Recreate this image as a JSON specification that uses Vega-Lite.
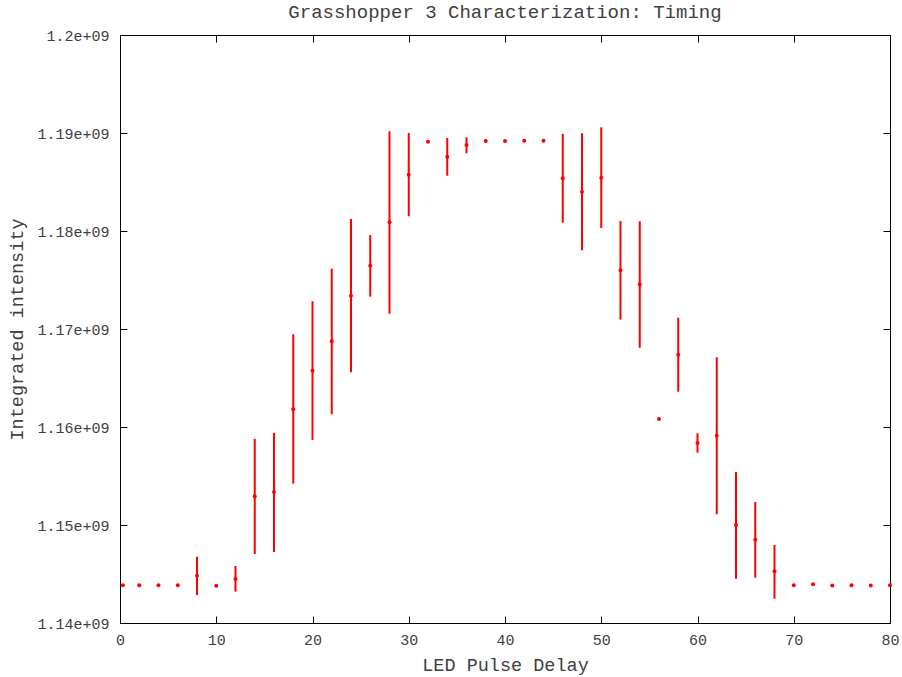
{
  "$schema": "https://vega.github.io/schema/vega-lite/v6.json",
  "width": 770,
  "height": 588,
  "autosize": {"type": "none"},
  "padding": {"left": 120, "top": 35, "right": 12, "bottom": 54},
  "background": "white",
  "title": {"text": "Grasshopper 3 Characterization: Timing", "font": "Liberation Mono", "fontSize": 19, "fontWeight": "normal", "color": "#404040", "offset": 6, "anchor": "middle"},
  "config": {
    "view": {"stroke": "#000000", "strokeWidth": 1},
    "axis": {"domain": false, "grid": false, "tickColor": "#000000", "tickSize": -7, "tickWidth": 1, "labelFlush": false,
             "labelFont": "Liberation Mono", "labelFontSize": 15, "labelColor": "#404040",
             "titleFont": "Liberation Mono", "titleFontSize": 18.5, "titleFontWeight": "normal", "titleColor": "#404040"}
  },
  "data": {"values": [
    {"x": 0.3, "y": 1143850000},
    {"x": 2, "y": 1143850000},
    {"x": 4, "y": 1143850000},
    {"x": 6, "y": 1143850000},
    {"x": 8, "y": 1144830000, "lo": 1142860000, "hi": 1146770000},
    {"x": 10, "y": 1143800000},
    {"x": 12, "y": 1144490000, "lo": 1143200000, "hi": 1145820000},
    {"x": 14, "y": 1152930000, "lo": 1147040000, "hi": 1158780000},
    {"x": 16, "y": 1153370000, "lo": 1147250000, "hi": 1159420000},
    {"x": 18, "y": 1161810000, "lo": 1154220000, "hi": 1169460000},
    {"x": 20, "y": 1165750000, "lo": 1158670000, "hi": 1172830000},
    {"x": 22, "y": 1168750000, "lo": 1161300000, "hi": 1176150000},
    {"x": 24, "y": 1173400000, "lo": 1165580000, "hi": 1181220000},
    {"x": 26, "y": 1176460000, "lo": 1173300000, "hi": 1179590000},
    {"x": 28, "y": 1180890000, "lo": 1171560000, "hi": 1190170000},
    {"x": 30, "y": 1185740000, "lo": 1181500000, "hi": 1190000000},
    {"x": 32, "y": 1189110000},
    {"x": 34, "y": 1187580000, "lo": 1185640000, "hi": 1189490000},
    {"x": 36, "y": 1188780000, "lo": 1187930000, "hi": 1189560000},
    {"x": 38, "y": 1189180000},
    {"x": 40, "y": 1189180000},
    {"x": 42, "y": 1189200000},
    {"x": 44, "y": 1189200000},
    {"x": 46, "y": 1185380000, "lo": 1180850000, "hi": 1189900000},
    {"x": 48, "y": 1184010000, "lo": 1178030000, "hi": 1189970000},
    {"x": 50, "y": 1185440000, "lo": 1180310000, "hi": 1190580000},
    {"x": 52, "y": 1175990000, "lo": 1170960000, "hi": 1181020000},
    {"x": 54, "y": 1174560000, "lo": 1168090000, "hi": 1180990000},
    {"x": 56, "y": 1160820000},
    {"x": 58, "y": 1167380000, "lo": 1163600000, "hi": 1171150000},
    {"x": 60, "y": 1158370000, "lo": 1157380000, "hi": 1159360000},
    {"x": 62, "y": 1159110000, "lo": 1151090000, "hi": 1167110000},
    {"x": 64, "y": 1150000000, "lo": 1144520000, "hi": 1155410000},
    {"x": 66, "y": 1148500000, "lo": 1144620000, "hi": 1152350000},
    {"x": 68, "y": 1145280000, "lo": 1142480000, "hi": 1147960000},
    {"x": 70, "y": 1143860000},
    {"x": 72, "y": 1143950000},
    {"x": 74, "y": 1143830000},
    {"x": 76, "y": 1143860000},
    {"x": 78, "y": 1143830000},
    {"x": 80, "y": 1143860000}
  ]},
  "layer": [
    {
      "mark": {"type": "rule", "color": "#ff0000", "strokeWidth": 2},
      "encoding": {
        "x": {"field": "x", "type": "quantitative", "scale": {"domain": [0, 80], "nice": false, "zero": false},
              "axis": {"orient": "bottom", "values": [0, 10, 20, 30, 40, 50, 60, 70, 80], "title": "LED Pulse Delay", "labelPadding": 16, "titlePadding": 8}},
        "y": {"field": "lo", "type": "quantitative", "scale": {"domain": [1140000000, 1200000000], "nice": false, "zero": false},
              "axis": {"orient": "left", "values": [1140000000, 1150000000, 1160000000, 1170000000, 1180000000, 1190000000, 1200000000],
                       "labelExpr": "replace(format(datum.value, '.3~e'), 'e+9', 'e+09')", "title": "Integrated intensity", "labelPadding": 18, "titlePadding": 10}},
        "y2": {"field": "hi"}
      }
    },
    {
      "mark": {"type": "circle", "color": "#ff0000", "opacity": 1, "size": 16},
      "encoding": {
        "x": {"field": "x", "type": "quantitative", "scale": {"domain": [0, 80], "nice": false, "zero": false},
              "axis": {"orient": "top", "values": [0, 10, 20, 30, 40, 50, 60, 70, 80], "labels": false, "title": null}},
        "y": {"field": "y", "type": "quantitative", "scale": {"domain": [1140000000, 1200000000], "nice": false, "zero": false},
              "axis": {"orient": "right", "values": [1140000000, 1150000000, 1160000000, 1170000000, 1180000000, 1190000000, 1200000000], "labels": false, "title": null}}
      }
    }
  ],
  "resolve": {"axis": {"x": "independent", "y": "independent"}}
}
